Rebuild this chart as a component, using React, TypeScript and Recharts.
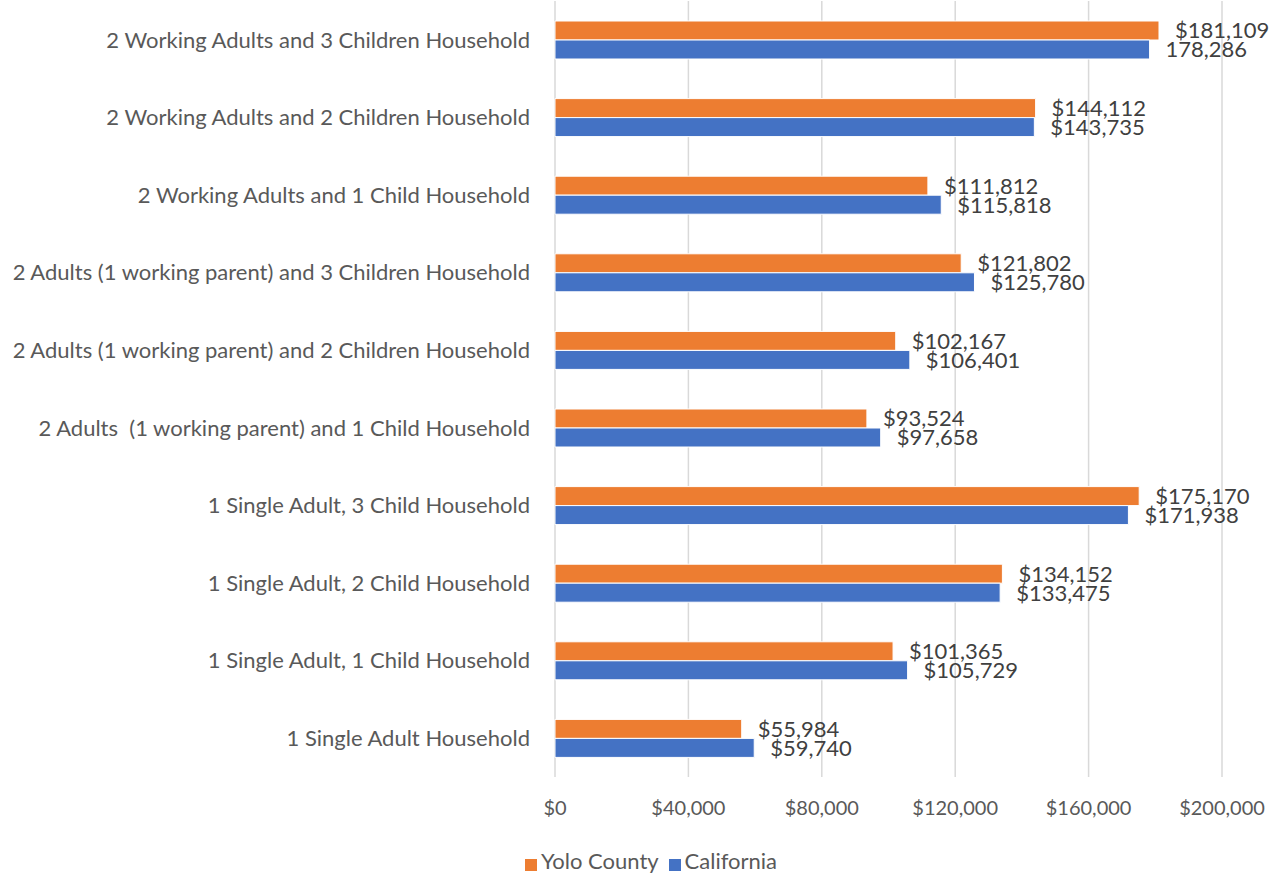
import React from "react";
import {
  BarChart,
  Bar,
  XAxis,
  YAxis,
  CartesianGrid,
  Legend,
  LabelList,
} from "recharts";

const categories = [
  "2 Working Adults and 3 Children Household",
  "2 Working Adults and 2 Children Household",
  "2 Working Adults and 1 Child Household",
  "2 Adults (1 working parent) and 3 Children Household",
  "2 Adults (1 working parent) and 2 Children Household",
  "2 Adults\u00a0 (1 working parent) and 1 Child Household",
  "1 Single Adult, 3 Child Household",
  "1 Single Adult, 2 Child Household",
  "1 Single Adult, 1 Child Household",
  "1 Single Adult Household",
];

const yoloValues = [181109, 144112, 111812, 121802, 102167, 93524, 175170, 134152, 101365, 55984];
const californiaValues = [178286, 143735, 115818, 125780, 106401, 97658, 171938, 133475, 105729, 59740];

// label texts as printed on the chart (top California one has no $)
const yoloLabels = ["$181,109", "$144,112", "$111,812", "$121,802", "$102,167", "$93,524", "$175,170", "$134,152", "$101,365", "$55,984"];
const californiaLabels = ["178,286", "$143,735", "$115,818", "$125,780", "$106,401", "$97,658", "$171,938", "$133,475", "$105,729", "$59,740"];

const xTicks = [0, 40000, 80000, 120000, 160000, 200000];

const FONT = "Lato, 'Open Sans', sans-serif";
const TEXT = "#595959";
const series = ["yolo", "california"];

const data = categories.map((name, i) => ({
  name,
  yolo: yoloValues[i],
  california: californiaValues[i],
  yoloLabel: yoloLabels[i],
  californiaLabel: californiaLabels[i],
}));

function money(v: number) {
  return "$" + v.toLocaleString("en-US");
}

export default function App() {
  document.body.style.margin = "0";
  return (
    <div style={{ width: 1276, height: 876, background: "#fff", fontFamily: FONT }}>
      <BarChart
        width={1276}
        height={876}
        data={data}
        layout="vertical"
        barSize={19}
        barGap={0}
        margin={{ top: 1, right: 54, bottom: 2, left: 0 }}
      >
        <CartesianGrid horizontal={false} stroke="#D9D9D9" strokeWidth={1.5} />
        <XAxis
          type="number"
          domain={[0, 200000]}
          ticks={xTicks}
          tickFormatter={money}
          axisLine={false}
          tickLine={false}
          tickMargin={18}
          height={70}
          tick={{ fill: TEXT, fontSize: 20, fontFamily: FONT }}
        />
        <YAxis
          type="category"
          dataKey="name"
          width={555}
          axisLine={false}
          tickLine={false}
          tickMargin={19}
          interval={0}
          tick={{ fill: TEXT, fontSize: 22, fontFamily: FONT }}
        />
        <Legend
          verticalAlign="bottom"
          iconType="square"
          iconSize={12}
          itemSorter={(item: any) => series.indexOf(item.dataKey)}
          wrapperStyle={{ left: 496, width: 320 }}
          formatter={(value) => (
            <span style={{ color: TEXT, fontSize: 22, fontFamily: FONT }}>{value}</span>
          )}
        />
        <Bar dataKey="yolo" name="Yolo County" fill="#ED7D31" stroke="#ffffff" strokeWidth={1} isAnimationActive={false}>
          <LabelList dataKey="yoloLabel" position="right" offset={16} fill="#404040" fontSize={22} fontFamily={FONT} />
        </Bar>
        <Bar dataKey="california" name="California" fill="#4472C4" stroke="#ffffff" strokeWidth={1} isAnimationActive={false}>
          <LabelList dataKey="californiaLabel" position="right" offset={16} fill="#404040" fontSize={22} fontFamily={FONT} />
        </Bar>
      </BarChart>
    </div>
  );
}
